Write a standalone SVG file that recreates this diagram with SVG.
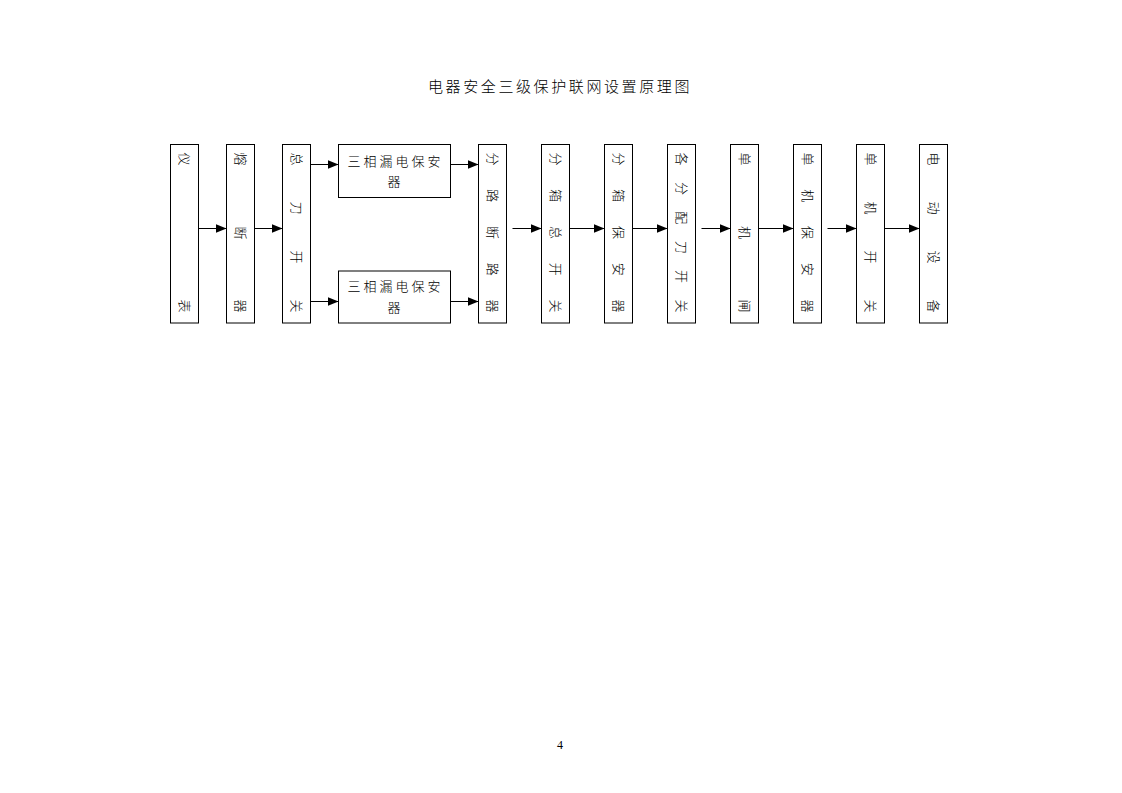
<svg xmlns="http://www.w3.org/2000/svg" width="1122" height="793" viewBox="0 0 1122 793">
<style>
rect.n{fill:#fff;stroke:#000;stroke-width:1}
text{font-family:"Liberation Serif","Noto Sans CJK SC",serif;fill:#000}
.v{font-size:13px;text-anchor:middle;dominant-baseline:central;font-weight:300}
.h{font-size:13px;text-anchor:middle;letter-spacing:3px;font-weight:300}
.t{font-size:15px;text-anchor:middle;letter-spacing:2.6px;font-weight:300}
line.c{stroke:#000;stroke-width:1;marker-end:url(#ah)}
</style>
<defs>
<marker id="ah" markerUnits="userSpaceOnUse" markerWidth="12" markerHeight="10" refX="11" refY="4.5" orient="auto">
<path d="M0,0 L11,4.5 L0,9 z" fill="#000"/>
</marker>
</defs>
<rect width="1122" height="793" fill="#fff"/>
<text class="t" x="560" y="92">电器安全三级保护联网设置原理图</text>

<g id="n1"><rect class="n" x="170.5" y="144.5" width="28" height="178.5"/>
<text class="v" x="184.5" y="159" transform="rotate(90 184.5 159)">仪</text>
<text class="v" x="184.5" y="306" transform="rotate(90 184.5 306)">表</text></g>

<g id="n2"><rect class="n" x="226.5" y="144.5" width="28" height="178.5"/>
<text class="v" x="240.5" y="159" transform="rotate(90 240.5 159)">熔</text>
<text class="v" x="240.5" y="233" transform="rotate(90 240.5 233)">断</text>
<text class="v" x="240.5" y="306" transform="rotate(90 240.5 306)">器</text></g>

<g id="n3"><rect class="n" x="282.5" y="144.5" width="28" height="178.5"/>
<text class="v" x="296.5" y="159" transform="rotate(90 296.5 159)">总</text>
<text class="v" x="296.5" y="208" transform="rotate(90 296.5 208)">刀</text>
<text class="v" x="296.5" y="257" transform="rotate(90 296.5 257)">开</text>
<text class="v" x="296.5" y="306" transform="rotate(90 296.5 306)">关</text></g>

<g id="n4"><rect class="n" x="338.5" y="144.5" width="112" height="53"/>
<text class="h" x="395.5" y="166">三相漏电保安</text>
<text class="h" x="395.5" y="186">器</text></g>

<g id="n5"><rect class="n" x="338.5" y="271" width="112" height="52"/>
<text class="h" x="395.5" y="291">三相漏电保安</text>
<text class="h" x="395.5" y="312">器</text></g>

<g id="n6"><rect class="n" x="478.5" y="144.5" width="28" height="178.5"/>
<text class="v" x="492.5" y="159" transform="rotate(90 492.5 159)">分</text>
<text class="v" x="492.5" y="195.75" transform="rotate(90 492.5 195.75)">路</text>
<text class="v" x="492.5" y="232.5" transform="rotate(90 492.5 232.5)">断</text>
<text class="v" x="492.5" y="269.25" transform="rotate(90 492.5 269.25)">路</text>
<text class="v" x="492.5" y="306" transform="rotate(90 492.5 306)">器</text></g>

<g id="n7"><rect class="n" x="541.5" y="144.5" width="28" height="178.5"/>
<text class="v" x="555.5" y="159" transform="rotate(90 555.5 159)">分</text>
<text class="v" x="555.5" y="195.75" transform="rotate(90 555.5 195.75)">箱</text>
<text class="v" x="555.5" y="232.5" transform="rotate(90 555.5 232.5)">总</text>
<text class="v" x="555.5" y="269.25" transform="rotate(90 555.5 269.25)">开</text>
<text class="v" x="555.5" y="306" transform="rotate(90 555.5 306)">关</text></g>

<g id="n8"><rect class="n" x="604.5" y="144.5" width="28" height="178.5"/>
<text class="v" x="618.5" y="159" transform="rotate(90 618.5 159)">分</text>
<text class="v" x="618.5" y="195.75" transform="rotate(90 618.5 195.75)">箱</text>
<text class="v" x="618.5" y="232.5" transform="rotate(90 618.5 232.5)">保</text>
<text class="v" x="618.5" y="269.25" transform="rotate(90 618.5 269.25)">安</text>
<text class="v" x="618.5" y="306" transform="rotate(90 618.5 306)">器</text></g>

<g id="n9"><rect class="n" x="667.5" y="144.5" width="28" height="178.5"/>
<text class="v" x="681.5" y="159" transform="rotate(90 681.5 159)">各</text>
<text class="v" x="681.5" y="188.4" transform="rotate(90 681.5 188.4)">分</text>
<text class="v" x="681.5" y="217.8" transform="rotate(90 681.5 217.8)">配</text>
<text class="v" x="681.5" y="247.2" transform="rotate(90 681.5 247.2)">刀</text>
<text class="v" x="681.5" y="276.6" transform="rotate(90 681.5 276.6)">开</text>
<text class="v" x="681.5" y="306" transform="rotate(90 681.5 306)">关</text></g>

<g id="n10"><rect class="n" x="730.5" y="144.5" width="28" height="178.5"/>
<text class="v" x="744.5" y="159" transform="rotate(90 744.5 159)">单</text>
<text class="v" x="744.5" y="232.5" transform="rotate(90 744.5 232.5)">机</text>
<text class="v" x="744.5" y="306" transform="rotate(90 744.5 306)">闸</text></g>

<g id="n11"><rect class="n" x="793.5" y="144.5" width="28" height="178.5"/>
<text class="v" x="807.5" y="159" transform="rotate(90 807.5 159)">单</text>
<text class="v" x="807.5" y="195.75" transform="rotate(90 807.5 195.75)">机</text>
<text class="v" x="807.5" y="232.5" transform="rotate(90 807.5 232.5)">保</text>
<text class="v" x="807.5" y="269.25" transform="rotate(90 807.5 269.25)">安</text>
<text class="v" x="807.5" y="306" transform="rotate(90 807.5 306)">器</text></g>

<g id="n12"><rect class="n" x="856.5" y="144.5" width="28" height="178.5"/>
<text class="v" x="870.5" y="159" transform="rotate(90 870.5 159)">单</text>
<text class="v" x="870.5" y="208" transform="rotate(90 870.5 208)">机</text>
<text class="v" x="870.5" y="257" transform="rotate(90 870.5 257)">开</text>
<text class="v" x="870.5" y="306" transform="rotate(90 870.5 306)">关</text></g>

<g id="n13"><rect class="n" x="919.5" y="144.5" width="28" height="178.5"/>
<text class="v" x="933.5" y="159" transform="rotate(90 933.5 159)">电</text>
<text class="v" x="933.5" y="208" transform="rotate(90 933.5 208)">动</text>
<text class="v" x="933.5" y="257" transform="rotate(90 933.5 257)">设</text>
<text class="v" x="933.5" y="306" transform="rotate(90 933.5 306)">备</text></g>

<g id="connectors">
<line class="c" x1="198.5" y1="228.5" x2="226.5" y2="228.5"/>
<line class="c" x1="254.5" y1="228.5" x2="282.5" y2="228.5"/>
<line class="c" x1="310.5" y1="164.5" x2="338.5" y2="164.5"/>
<line class="c" x1="310.5" y1="301.5" x2="338.5" y2="301.5"/>
<line class="c" x1="450.5" y1="164.5" x2="478.5" y2="164.5"/>
<line class="c" x1="450.5" y1="301.5" x2="478.5" y2="301.5"/>
<line class="c" x1="512.5" y1="228.5" x2="541.5" y2="228.5"/>
<line class="c" x1="569.5" y1="228.5" x2="604.5" y2="228.5"/>
<line class="c" x1="632.5" y1="228.5" x2="667.5" y2="228.5"/>
<line class="c" x1="701.5" y1="228.5" x2="730.5" y2="228.5"/>
<line class="c" x1="758.5" y1="228.5" x2="793.5" y2="228.5"/>
<line class="c" x1="827.5" y1="228.5" x2="856.5" y2="228.5"/>
<line class="c" x1="884.5" y1="228.5" x2="919.5" y2="228.5"/>
</g>

<text x="560" y="749" style="font-size:12px;text-anchor:middle">4</text>
</svg>
